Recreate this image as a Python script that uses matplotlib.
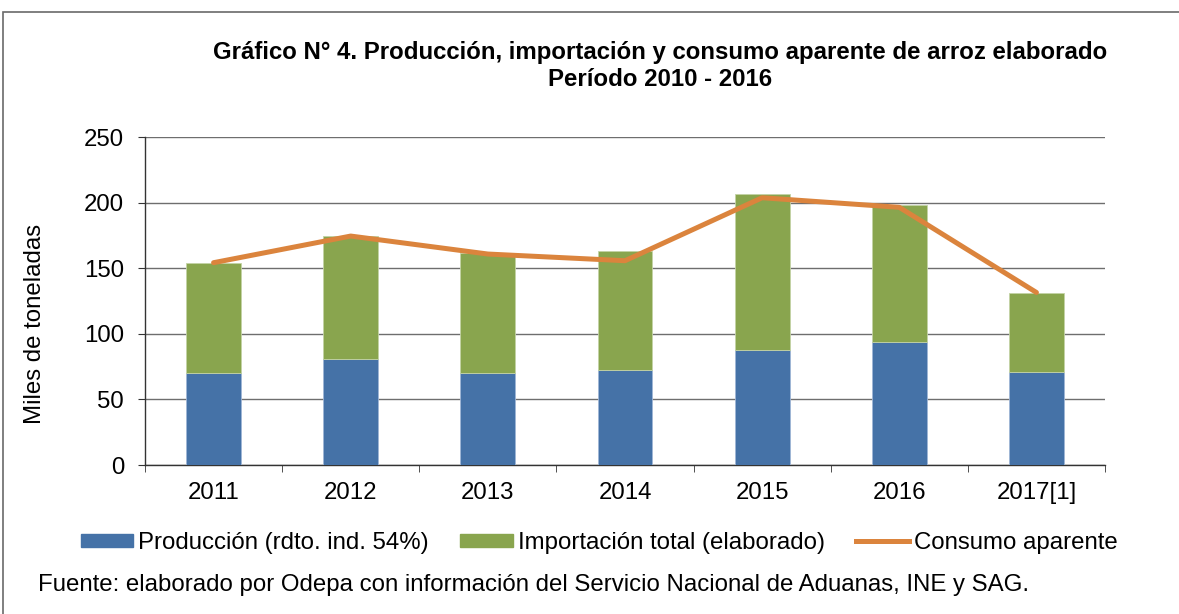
import matplotlib
matplotlib.use("Agg")
import matplotlib.pyplot as plt
from matplotlib.patches import Rectangle, Patch
from matplotlib.lines import Line2D
import numpy as np

plt.rcParams['font.family'] = ['Liberation Sans', 'DejaVu Sans']

categories = ["2011", "2012", "2013", "2014", "2015", "2016", "2017[1]"]
produccion = [70.4, 80.8, 70.4, 72.6, 87.9, 94.0, 70.6]
importacion = [83.6, 93.7, 91.2, 90.5, 118.9, 103.9, 60.7]
consumo = [154.2, 174.5, 160.8, 155.7, 203.7, 196.4, 131.5]
y_ticks = [0, 50, 100, 150, 200, 250]

title = "Gráfico N° 4. Producción, importación y consumo aparente de arroz elaborado\nPeríodo 2010 - 2016"
y_label = "Miles de toneladas"
legend_labels = ["Producción (rdto. ind. 54%)", "Importación total (elaborado)", "Consumo aparente"]
source = "Fuente: elaborado por Odepa con información del Servicio Nacional de Aduanas, INE y SAG."

c_blue = "#4572A7"
c_green = "#89A54E"
c_orange = "#DB843D"

FS = 17.3

W, H = 1179, 614
fig = plt.figure(figsize=(W / 100, H / 100), dpi=100)

# outer border
fig.patches.append(Rectangle((3 / W, -0.05), 1.1, (H - 12) / H + 0.05,
                             transform=fig.transFigure, fill=False,
                             edgecolor="#6a6a6a", linewidth=1.2))

ax = fig.add_axes([145 / W, (H - 465) / H, 960 / W, 328 / H])
x = np.arange(len(categories))
bw = 0.40
ax.bar(x, produccion, width=bw, color=c_blue, edgecolor="#9fb6d6", linewidth=0.6, zorder=3)
ax.bar(x, importacion, bottom=produccion, width=bw, color=c_green,
       edgecolor="#c3d3a5", linewidth=0.6, zorder=3)
ax.plot(x, consumo, color=c_orange, linewidth=3.6, solid_capstyle="round", zorder=4)

ax.set_xlim(-0.5, len(categories) - 0.5)
ax.set_ylim(0, 250)
ax.set_yticks(y_ticks)
ax.set_yticklabels([str(t) for t in y_ticks], fontsize=FS)
ax.yaxis.grid(True, color="#6e6e6e", linewidth=1.0, zorder=0)
ax.set_axisbelow(True)

ax.set_xticks(x)
ax.set_xticklabels(categories, fontsize=FS)
ax.tick_params(axis="x", which="major", length=0, pad=12)
ax.set_xticks(np.arange(-0.5, len(categories)), minor=True)
ax.tick_params(axis="x", which="minor", length=5, direction="out", color="#333333")
ax.tick_params(axis="y", length=5, direction="out", color="#333333", pad=10)

for s in ["top", "right"]:
    ax.spines[s].set_visible(False)
ax.spines["left"].set_color("#333333")
ax.spines["bottom"].set_color("#333333")
ax.spines["left"].set_linewidth(1.0)
ax.spines["bottom"].set_linewidth(1.0)

fig.text(35 / W, 1 - 324 / H, y_label, rotation=90, fontsize=FS,
         ha="center", va="center")

fig.text(660 / W, 1 - 66 / H, title, fontsize=FS, fontweight="bold",
         ha="center", va="center", linespacing=1.2)

handles = [Patch(facecolor=c_blue, edgecolor=c_blue),
           Patch(facecolor=c_green, edgecolor=c_green),
           Line2D([0], [0], color=c_orange, linewidth=3.6)]
leg = fig.legend(handles, legend_labels, loc="center", bbox_to_anchor=(599 / W, 1 - 543 / H),
                 ncol=3, frameon=False, fontsize=FS, handlelength=2.2, handleheight=0.5,
                 handletextpad=0.2, columnspacing=1.3)

fig.text(38 / W, 1 - 585 / H, source, fontsize=FS, ha="left", va="center")

fig.savefig("out.png", dpi=100)
